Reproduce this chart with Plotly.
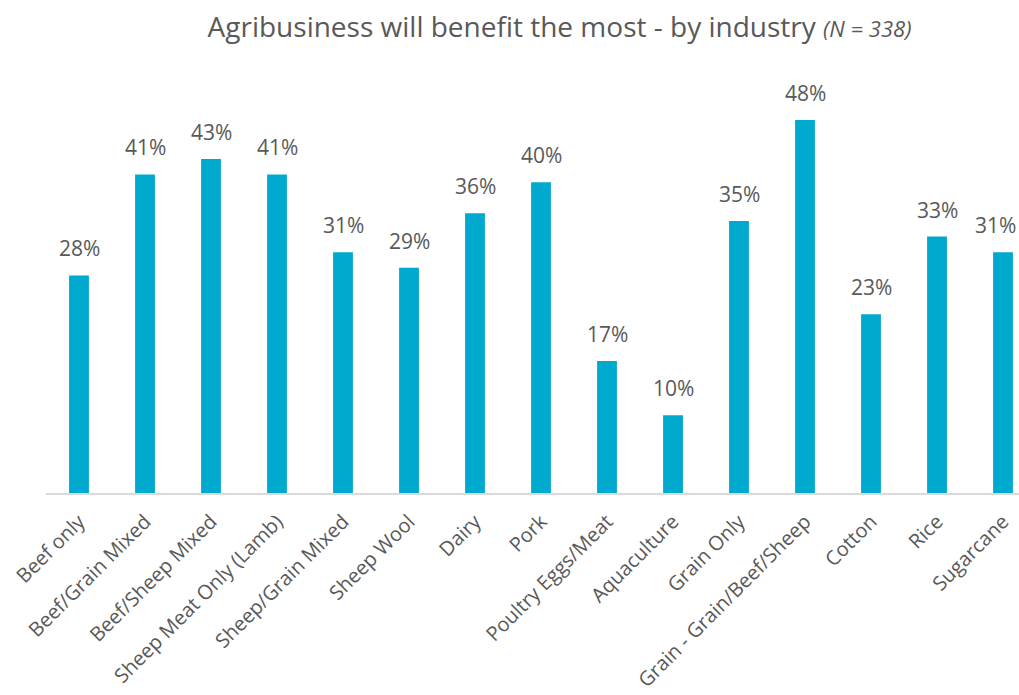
import plotly.graph_objects as go

categories = [
    "Beef only", "Beef/Grain Mixed", "Beef/Sheep Mixed", "Sheep Meat Only (Lamb)",
    "Sheep/Grain Mixed", "Sheep Wool", "Dairy", "Pork", "Poultry Eggs/Meat",
    "Aquaculture", "Grain Only", "Grain - Grain/Beef/Sheep", "Cotton", "Rice", "Sugarcane",
]
values = [28, 41, 43, 41, 31, 29, 36, 40, 17, 10, 35, 48, 23, 33, 31]

BAR_COLOR = "#00A9CE"
TEXT_COLOR = "#595959"

fig = go.Figure()
fig.add_trace(go.Bar(
    x=list(range(len(categories))),
    y=values,
    marker=dict(color=BAR_COLOR, line=dict(width=0)),
    width=0.30,
    hoverinfo="skip",
))

# value labels above each bar; the last one is nudged left to stay on the page
for i, v in enumerate(values):
    fig.add_annotation(
        x=i, y=v, text=f"{v}%", showarrow=False,
        yanchor="middle", yshift=27,
        xshift=-8 if i == len(values) - 1 else 0,
        font=dict(family="Open Sans", size=21, color=TEXT_COLOR),
    )

fig.update_layout(
    width=1019, height=695,
    margin=dict(l=46, r=0, t=80, b=202),
    paper_bgcolor="white", plot_bgcolor="white",
    showlegend=False,
    title=dict(
        text="Agribusiness will benefit the most - by industry "
             "<i><span style='font-size:22px'>(N = 338)</span></i>",
        x=559.5 / 1019, xanchor="center", xref="container",
        y=1 - 27 / 695, yanchor="middle", yref="container",
        font=dict(family="Open Sans", size=28, color=TEXT_COLOR),
    ),
    xaxis=dict(
        tickmode="array",
        tickvals=list(range(len(categories))),
        ticktext=categories,
        tickangle=-45,
        ticklabelstandoff=7,
        range=[-0.5, 14.5 - 17 / 66],
        showline=True, linecolor="#D9D9D9", linewidth=2,
        showgrid=False, zeroline=False, ticks="",
        tickfont=dict(family="Open Sans", size=20, color=TEXT_COLOR),
    ),
    yaxis=dict(
        range=[0, 413 / 7.77],
        visible=False, showgrid=False, zeroline=False,
    ),
)

fig.write_html("out.html")
